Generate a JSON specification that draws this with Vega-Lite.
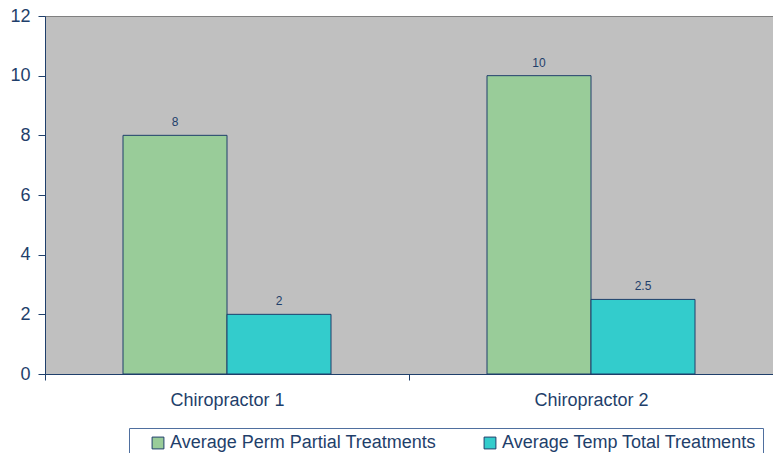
{
  "$schema": "https://vega.github.io/schema/vega-lite/v6.json",
  "width": 728,
  "height": 358,
  "autosize": {"type": "none"},
  "padding": {"left": 45, "top": 16, "right": 0, "bottom": 79},
  "background": "white",
  "config": {
    "font": "Liberation Sans",
    "view": {"fill": "#C0C0C0", "stroke": "#808080"}
  },
  "data": {
    "values": [
      {"chiro": "Chiropractor 1", "series": "Average Perm Partial Treatments", "value": 8},
      {"chiro": "Chiropractor 1", "series": "Average Temp Total Treatments", "value": 2},
      {"chiro": "Chiropractor 2", "series": "Average Perm Partial Treatments", "value": 10},
      {"chiro": "Chiropractor 2", "series": "Average Temp Total Treatments", "value": 2.5}
    ]
  },
  "encoding": {
    "x": {
      "field": "chiro",
      "type": "nominal",
      "scale": {"paddingInner": 0, "paddingOuter": 0},
      "axis": {
        "title": null,
        "labelAngle": 0,
        "labelFontSize": 18,
        "labelColor": "#1F3F6B",
        "labelPadding": 11,
        "domainColor": "#1F3F6B",
        "tickColor": "#1F3F6B",
        "tickSize": 6,
        "tickBand": "extent"
      }
    },
    "xOffset": {
      "field": "series",
      "type": "nominal",
      "scale": {"paddingOuter": 0.75, "paddingInner": 0}
    },
    "y": {
      "field": "value",
      "type": "quantitative",
      "scale": {"domain": [0, 12], "nice": false},
      "axis": {
        "title": null,
        "values": [0, 2, 4, 6, 8, 10, 12],
        "grid": false,
        "labelFontSize": 18,
        "labelColor": "#1F3F6B",
        "labelPadding": 8,
        "domainColor": "#1F3F6B",
        "tickColor": "#1F3F6B",
        "tickSize": 7
      }
    }
  },
  "layer": [
    {
      "mark": {"type": "bar", "stroke": "#1F3F6B", "strokeWidth": 1},
      "encoding": {
        "color": {
          "field": "series",
          "type": "nominal",
          "scale": {
            "domain": ["Average Perm Partial Treatments", "Average Temp Total Treatments"],
            "range": ["#99CC99", "#33CCCC"]
          },
          "legend": {
            "title": null,
            "orient": "none",
            "legendX": 84,
            "legendY": 412,
            "direction": "horizontal",
            "strokeColor": "#4F6F9F",
            "fillColor": "white",
            "padding": 6,
            "symbolType": "square",
            "symbolSize": 140,
            "symbolStrokeColor": "#1F3F6B",
            "symbolStrokeWidth": 1,
            "symbolOffset": 14,
            "labelOffset": 3,
            "labelFontSize": 18,
            "labelColor": "#1F3F6B",
            "labelLimit": 400,
            "columnPadding": 30
          }
        }
      }
    },
    {
      "mark": {"type": "text", "dy": -13, "fontSize": 12, "color": "#1F3F6B"},
      "encoding": {
        "text": {"field": "value", "type": "quantitative"}
      }
    }
  ]
}
